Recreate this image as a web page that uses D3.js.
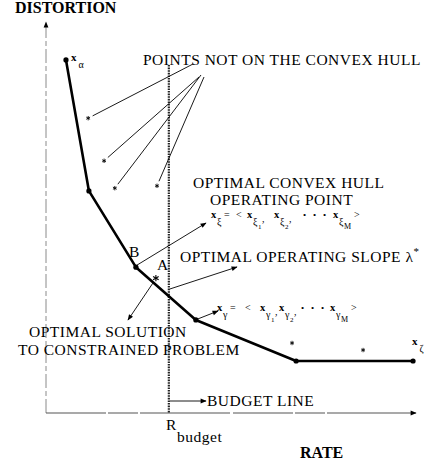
<!DOCTYPE html>
<html>
<head>
<meta charset="utf-8">
<script src="https://cdn.jsdelivr.net/npm/d3@7/dist/d3.min.js"></script>
<style>
  html, body { margin: 0; padding: 0; background: #fff; }
  svg { display: block; }
  text { font-family: "Liberation Serif", "Times New Roman", serif; fill: #000; }
</style>
</head>
<body>
<script>
// Operational rate-distortion plane: convex hull of achievable (rate, distortion) pairs
const hullRate = [5.4, 11.6, 24.3, 40.5, 67.6, 99.2];
const hullDist = [90.3, 56.8, 37.3, 23.8, 13.3, 13.3];
// operating points that are not on the convex hull
const offRate = [11.4, 15.7, 18.6, 30.0, 66.5, 85.7];
const offDist = [75.4, 64.5, 57.5, 58.1, 17.9, 16.1];
// optimal solution of the constrained problem
const constrainedRate = 29.7;
const constrainedDist = 34.5;
// rate budget
const rBudget = 33.2;
const budgetTop = 89;

const W = 425, H = 460;
const svg = d3.select("body").append("svg").attr("width", W).attr("height", H);

const x = d3.scaleLinear().domain([0, 100]).range([46, 416]);
const y = d3.scaleLinear().domain([0, 100]).range([413, 22]);

const defs = svg.append("defs");
defs.append("marker")
  .attr("id", "arrow").attr("viewBox", "0 0 10 10")
  .attr("refX", 9).attr("refY", 5)
  .attr("markerWidth", 7).attr("markerHeight", 6)
  .attr("markerUnits", "userSpaceOnUse")
  .attr("orient", "auto")
  .append("path").attr("d", "M0,1 L10,5 L0,9 Z").attr("fill", "#000");

// axes
svg.append("line")
  .attr("x1", x(0)).attr("y1", y(0)).attr("x2", x(0)).attr("y2", y(100))
  .attr("stroke", "#8a8a8a").attr("stroke-width", 1)
  .attr("stroke-dasharray", "14,3,5,3")
  .attr("marker-end", "url(#arrow)");
svg.append("line")
  .attr("x1", x(0)).attr("y1", y(0)).attr("x2", x(100)).attr("y2", y(0))
  .attr("stroke", "#555").attr("stroke-width", 1.1)
  .attr("stroke-dasharray", "60,2,30,2,90,3")
  .attr("marker-end", "url(#arrow)");

// budget line
svg.append("line")
  .attr("x1", x(rBudget)).attr("y1", y(budgetTop))
  .attr("x2", x(rBudget)).attr("y2", y(0))
  .attr("stroke", "#222").attr("stroke-width", 2.2)
  .attr("stroke-dasharray", "1.6,1");

// convex hull
const hull = hullRate.map((r, i) => [r, hullDist[i]]);
svg.append("path")
  .attr("d", d3.line().x(d => x(d[0])).y(d => y(d[1]))(hull))
  .attr("fill", "none").attr("stroke", "#000").attr("stroke-width", 2.6)
  .attr("stroke-linejoin", "round");
svg.selectAll("circle.hull").data(hull).join("circle")
  .attr("class", "hull")
  .attr("cx", d => x(d[0])).attr("cy", d => y(d[1])).attr("r", 2.6)
  .attr("fill", "#000");

// asterisk marks
function asterisk(px, py, r, w) {
  const g = svg.append("g").attr("transform", `translate(${px},${py})`);
  [90, 30, 150].forEach(a => {
    const t = a * Math.PI / 180;
    g.append("line")
      .attr("x1", -r * Math.cos(t)).attr("y1", -r * Math.sin(t))
      .attr("x2", r * Math.cos(t)).attr("y2", r * Math.sin(t))
      .attr("stroke", "#000").attr("stroke-width", w);
  });
}
const off = offRate.map((r, i) => [r, offDist[i]]);
off.forEach(d => asterisk(x(d[0]), y(d[1]), 2.2, 0.9));
asterisk(x(constrainedRate), y(constrainedDist), 3.2, 1.1);

// leader lines from the caption to the first four off-hull points
const leaderStarts = [[193, 64], [199, 77], [201, 75], [204, 77]];
leaderStarts.forEach((s, i) => {
  const px = x(off[i][0]), py = y(off[i][1]);
  const dx = s[0] - px, dy = s[1] - py, len = Math.hypot(dx, dy);
  svg.append("line")
    .attr("x1", s[0]).attr("y1", s[1])
    .attr("x2", px + dx / len * 5).attr("y2", py + dy / len * 5)
    .attr("stroke", "#000").attr("stroke-width", 0.9);
});

function arrow(x1, y1, x2, y2, w) {
  svg.append("line")
    .attr("x1", x1).attr("y1", y1).attr("x2", x2).attr("y2", y2)
    .attr("stroke", "#000").attr("stroke-width", w || 0.9)
    .attr("marker-end", "url(#arrow)");
}
const B = hull[2], G = hull[3];
arrow(x(B[0]) + 1, y(B[1]) - 2, 206, 223);
arrow(x(rBudget) + 1, 289, 237, 267);
arrow(x(constrainedRate) - 3, y(constrainedDist) + 5, 128, 320);
arrow(x(G[0]) + 2, y(G[1]) - 1, 218, 311);
arrow(x(rBudget) + 1, 401, 206, 401);

// text
function label(tx, ty, str, bold) {
  const t = svg.append("text").attr("x", tx).attr("y", ty);
  if (bold) t.attr("font-size", 16).attr("font-weight", "bold");
  else t.attr("font-size", 15.5).attr("letter-spacing", 0.5);
  return t.text(str);
}
label(15, 13, "DISTORTION", true);
label(300, 458, "RATE", true);
label(143, 65, "POINTS NOT ON THE CONVEX HULL");
label(193, 187.5, "OPTIMAL CONVEX HULL");
label(210, 205, "OPERATING POINT");
const slope = label(180, 262, "OPTIMAL OPERATING SLOPE ");
slope.append("tspan").text("λ");
slope.append("tspan").attr("dy", -7).attr("font-size", 11).text("*");
label(129, 257, "B");
label(157, 270, "A");
label(29, 337, "OPTIMAL SOLUTION");
label(18, 354.5, "TO CONSTRAINED PROBLEM");
label(207, 406, "BUDGET LINE");
label(166, 430, "R");
label(177, 442, "budget");

// point names: bold x with a lowered subscript
function pointName(tx, ty, sym) {
  const t = svg.append("text").attr("x", tx).attr("y", ty).attr("font-size", 11);
  t.append("tspan").attr("font-weight", "bold").text("x");
  t.append("tspan").attr("dx", 2).attr("dy", 7).attr("font-size", 10).text(sym);
}
pointName(71, 61, "α");
pointName(412, 345, "ζ");

// vector names: x_s = < x_s1 , x_s2 , ... x_sM >, one text of placed pieces
function vectorName(x0, y0, sym, o) {
  const t = svg.append("text").attr("x", x0).attr("y", y0).attr("font-size", 10);
  const put = (dx, dy, str, size, bold) =>
    t.append("tspan").attr("x", x0 + dx).attr("y", y0 + dy)
      .attr("font-size", size).attr("font-weight", bold ? "bold" : "normal").text(str);
  const comp = (at, idx, idxSize) => {
    put(at, 0, "x", 10.5, true);
    put(at + 6, 7, sym, 10);
    put(at + 11, 11, idx, idxSize);
  };
  comp(0, "", 7);
  put(o[0], 0, "=", 10);
  put(o[1], 0, "<", 10);
  comp(o[2], "1", 7);
  put(o[2] + 15, 4, ",", 10);
  comp(o[3], "2", 7);
  put(o[3] + 15, 4, ",", 10);
  o[4].forEach(d => put(d, 0, "•", 9));
  comp(o[5], "M", 8);
  put(o[6], 0, ">", 10);
}
vectorName(211, 218, "ξ", [13, 25, 36, 63, [92, 102, 112], 122, 143]);
vectorName(217, 311, "γ", [13, 28, 43, 62, [84, 94, 104], 113, 134]);
</script>
</body>
</html>
